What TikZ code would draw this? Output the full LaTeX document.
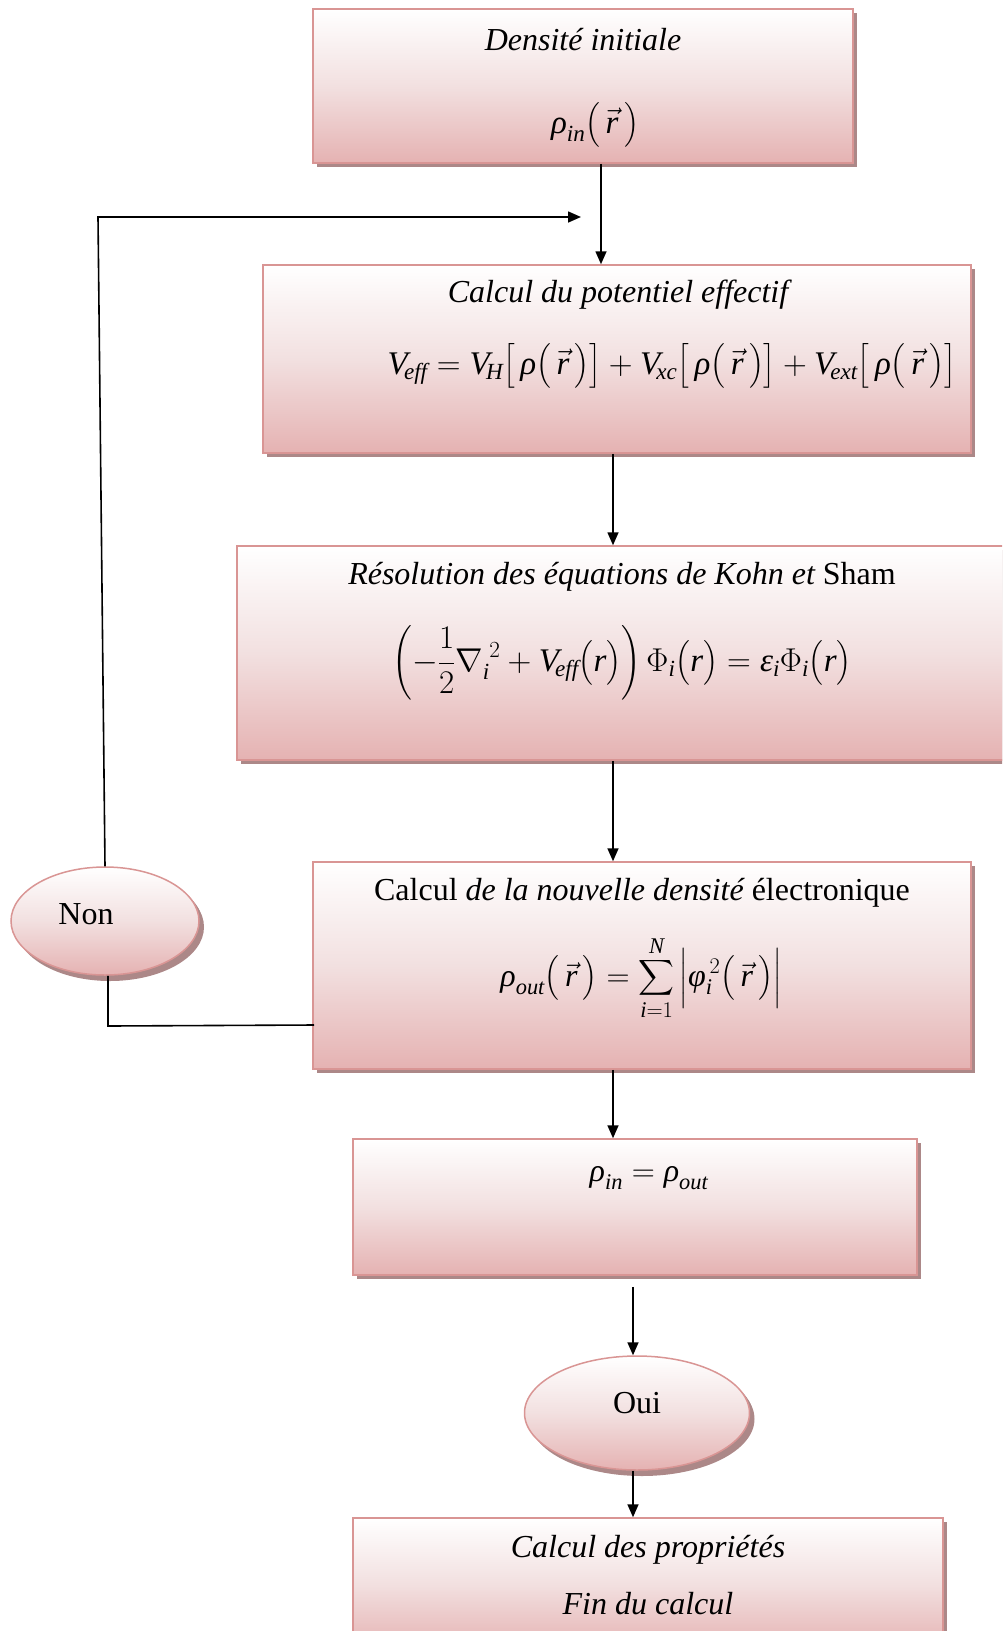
\RequirePackage{fix-cm}
\documentclass[tikz,border=0pt]{standalone}
\usepackage{amsmath}
\usepackage{fontspec}
\setmainfont{Liberation Serif}
\usetikzlibrary{shadows,arrows.meta,shapes.geometric}
\definecolor{bord}{RGB}{217,149,148}
\definecolor{pinkB}{RGB}{229,178,178}
\definecolor{pinkM}{RGB}{242,224,224}
\definecolor{shad}{RGB}{172,136,136}
\newcommand{\mi}[1]{\textit{#1}}
\newcommand{\vecr}{\,\vec{\mi{r}}\,}
\begin{document}
\begin{tikzpicture}[x=1pt,y=-1pt,
  box/.style={draw=bord, line width=1.5pt, top color=white, bottom color=pinkB, middle color=pinkM,
    drop shadow={shadow xshift=4pt, shadow yshift=-4pt, fill=shad, opacity=1}, inner sep=0pt},
  oval/.style={box, ellipse, drop shadow={shadow xshift=5pt, shadow yshift=-6pt, fill=shad, opacity=1}},
  ttl/.style={font=\fontsize{32}{38}\selectfont, inner sep=0pt},
  eqn/.style={font=\fontsize{33}{40}\selectfont, inner sep=0pt},
  conn/.style={line width=1.6pt},
  arr/.style={conn, -{Triangle[length=13pt,width=11pt]}}]
\useasboundingbox (0,0) rectangle (1002,1631);
\clip (0,0) rectangle (1002,1631);
% boxes
\node[box, minimum width=540pt, minimum height=154pt] (b1) at (583,86) {};
\node[box, minimum width=708pt, minimum height=188pt] (b2) at (617,359) {};
\node[box, minimum width=775pt, minimum height=214pt] (b3) at (624.5,653) {};
\node[box, minimum width=658pt, minimum height=207pt] (b4) at (642,965.5) {};
\node[box, minimum width=564pt, minimum height=136pt] (b5) at (635,1207) {};
\node[box, minimum width=590pt, minimum height=132pt] (b6) at (648,1584) {};
\node[oval, minimum width=188pt, minimum height=108pt] (non) at (105,921) {};
\node[oval, minimum width=225pt, minimum height=114pt] (oui) at (637,1413) {};
% texts
\node[ttl] (t1) at (583,40) {\itshape Densité initiale};
\node[eqn] (e1) at (595,125) {$\mi{ρ}_{\mi{in}}\big(\vecr\big)$};
\node[ttl] (t2) at (618,295) {\itshape Calcul du potentiel effectif};
\node[eqn] (e2) at (672,366) {$\mi{V}_{\!\mi{eff}} = \mi{V}_{\!\mi{H}}\big[\,\mi{ρ}\big(\vecr\big)\big] + \mi{V}_{\!\mi{xc}}\big[\,\mi{ρ}\big(\vecr\big)\big] + \mi{V}_{\!\mi{ext}}\big[\,\mi{ρ}\big(\vecr\big)\big]$};
\node[ttl] (t3) at (622,577) {\itshape Résolution des équations de Kohn et \upshape Sham};
\node[eqn] (e3) at (622,663) {$\displaystyle\left(-\frac{1}{2}\nabla_{\mi{i}}^{\;2} + \mi{V}_{\!\mi{eff}}\big(\mi{r}\big)\right)\Phi_{\mi{i}}\big(\mi{r}\big) = \mi{ε}_{\mi{i}}\Phi_{\mi{i}}\big(\mi{r}\big)$};
\node[ttl] (t4) at (642,893) {Calcul \itshape de la nouvelle densité \upshape électronique};
\node[eqn, font=\fontsize{32}{38}\selectfont] (e4) at (641,978) {$\displaystyle\mi{ρ}_{\mi{out}}\big(\vecr\big) = \sum_{\mi{i}=1}^{\mi{N}}\Big|\mi{φ}_{\mi{i}}^{\,2}\big(\vecr\big)\Big|$};
\node[eqn, font=\fontsize{32}{38}\selectfont] (e5) at (649,1178) {$\mi{ρ}_{\mi{in}} = \mi{ρ}_{\mi{out}}$};
\node[ttl] (tnon) at (86,914) {Non};
\node[ttl] (toui) at (637,1403) {Oui};
\node[ttl] (t6a) at (648,1550) {\itshape Calcul des propriétés};
\node[ttl] (t6b) at (648,1604) {\itshape Fin du calcul};
% connectors
\coordinate (x1) at (601,0);
\coordinate (x2) at (613,0);
\coordinate (x3) at (633,0);
\coordinate (loopTop) at (98,217);
\coordinate (loopEnd) at (581,217);
\coordinate (nonLow) at (108,1026);
\coordinate (b4in) at (314,1025);
\draw[arr] (b1.south -| x1) -- (b2.north -| x1);
\draw[arr] (b2.south -| x2) -- (b3.north -| x2);
\draw[arr] (b3.south -| x2) -- (b4.north -| x2);
\draw[arr] (b4.south -| x2) -- (b5.north -| x2);
\draw[arr] ([yshift=-11pt]b5.south -| x3) -- (oui.north -| x3);
\draw[arr] (oui.south -| x3) -- (b6.north -| x3);
\draw[arr] (non.north) -- (loopTop) -- (loopEnd);
\draw[conn] (b4in) -- (nonLow) -- (non.south -| nonLow);
\end{tikzpicture}
\end{document}
